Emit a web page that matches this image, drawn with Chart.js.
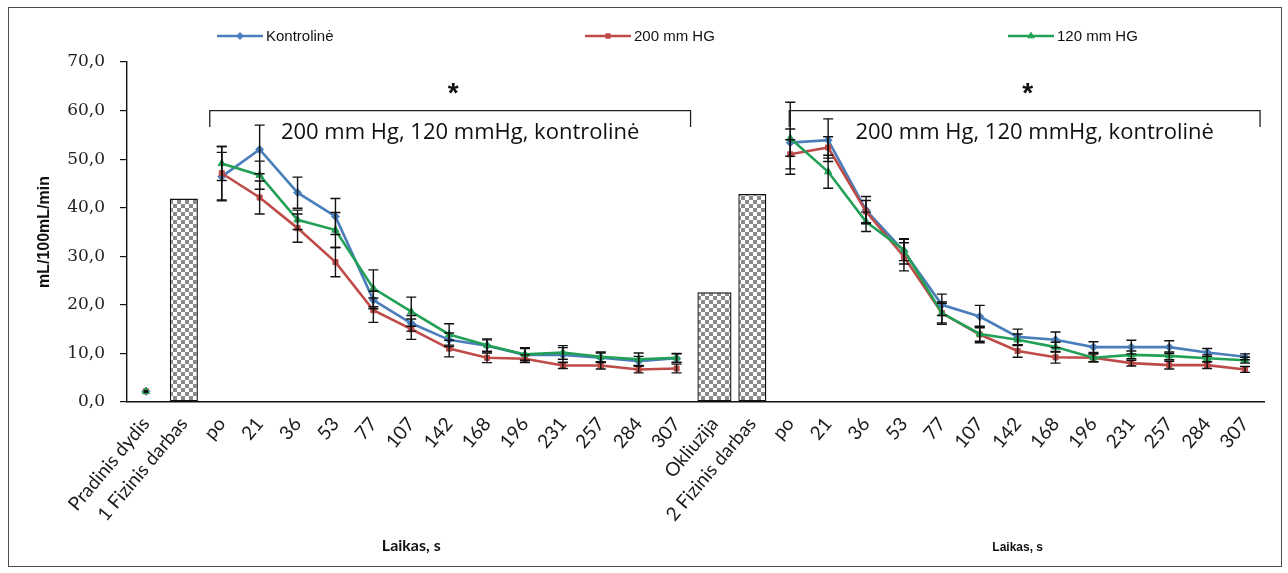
<!DOCTYPE html>
<html lang="lt">
<head>
<meta charset="utf-8">
<title>Kraujotaka</title>
<script src="https://cdn.jsdelivr.net/npm/chart.js@4.4.1/dist/chart.umd.min.js"></script>
<style>
    html, body { margin: 0; padding: 0; background: #fff; }
    .chart-box {
        position: absolute; left: 8px; top: 7px;
        width: 1272px; height: 558px;
        border: 1px solid #4d4d4d;
    }
</style>
</head>
<body>
<div class="chart-box"><canvas id="flowChart"></canvas></div>
<script>
var categories = [
    'Pradinis dydis', '1 Fizinis darbas',
    'po', '21', '36', '53', '77', '107', '142', '168', '196', '231', '257', '284', '307',
    'Okliuzija', '2 Fizinis darbas',
    'po', '21', '36', '53', '77', '107', '142', '168', '196', '231', '257', '284', '307'
];

var seriesNames = ['Kontrolinė', '200 mm HG', '120 mm HG'];

var barValues = [null, 41.9, null, null, null, null, null, null, null, null, null, null, null, null, null,
    22.6, 42.8, null, null, null, null, null, null, null, null, null, null, null, null, null];

var kontroline = [2.2, null,
    46.4, 52.0, 43.1, 38.2, 21.0, 16.2, 12.8, 11.6, 9.7, 9.7, 9.1, 8.4, 9.0,
    null, null,
    53.4, 53.9, 39.5, 31.0, 20.0, 17.6, 13.4, 12.8, 11.3, 11.3, 11.3, 10.2, 9.3];
var mm200 = [2.2, null,
    47.1, 42.1, 35.8, 28.8, 18.9, 15.0, 11.0, 9.1, 8.9, 7.5, 7.5, 6.7, 6.9,
    null, null,
    51.0, 52.4, 39.2, 29.9, 18.3, 13.9, 10.5, 9.2, 9.1, 8.0, 7.6, 7.6, 6.7];
var mm120 = [2.2, null,
    49.1, 46.7, 37.5, 35.4, 23.4, 18.6, 13.9, 11.7, 9.8, 10.2, 9.3, 8.8, 9.1,
    null, null,
    54.3, 47.4, 37.1, 31.3, 18.3, 14.0, 12.8, 11.3, 9.1, 9.7, 9.5, 9.0, 8.6];

var sdKontroline = [0.15, null,
    5.0, 5.0, 3.2, 3.7, 1.8, 1.6, 1.4, 1.2, 1.5, 1.5, 1.0, 1.0, 0.9,
    null, null,
    2.8, 4.4, 2.8, 2.6, 2.2, 2.3, 1.6, 1.6, 1.1, 1.4, 1.3, 0.8, 0.6];
var sd200 = [0.15, null,
    5.5, 3.4, 2.9, 3.0, 2.5, 2.1, 1.7, 1.0, 0.8, 0.6, 0.7, 0.7, 0.9,
    null, null,
    3.0, 2.2, 2.3, 2.9, 2.3, 1.7, 1.3, 1.2, 0.8, 0.6, 0.8, 0.7, 0.6];
var sd120 = [0.15, null,
    3.5, 2.9, 2.0, 3.6, 3.8, 3.0, 2.2, 1.3, 1.2, 1.4, 1.0, 1.3, 0.9,
    null, null,
    7.4, 3.4, 2.0, 2.2, 2.0, 1.5, 1.2, 1.0, 0.8, 0.8, 0.8, 0.7, 0.6];

var yTicks = [0, 10, 20, 30, 40, 50, 60, 70];
var yTickLabels = ['0,0', '10,0', '20,0', '30,0', '40,0', '50,0', '60,0', '70,0'];

var yTitle = 'mL/100mL/min';
var xTitle = 'Laikas, s';
var groupNote = '200 mm Hg, 120 mmHg, kontrolinė';

(function () {
    'use strict';

    var colors = ['#4A7EBB', '#BE4B48', '#22A055'];
    var markers = ['rectRot', 'rect', 'triangle'];
    var markerSize = [4, 3.6, 4.2];
    var sds = [sdKontroline, sd200, sd120];

    // checkered bar fill
    var tile = document.createElement('canvas');
    tile.width = 8;
    tile.height = 8;
    var tctx = tile.getContext('2d');
    tctx.fillStyle = '#ffffff';
    tctx.fillRect(0, 0, 8, 8);
    tctx.fillStyle = '#8a8a8a';
    tctx.fillRect(0, 0, 4, 4);
    tctx.fillRect(4, 4, 4, 4);
    var checker = tctx.createPattern(tile, 'repeat');

    var narrowBars = barValues.map(function (v, i) { return categories[i] === 'Okliuzija' ? null : v; });
    var wideBars = barValues.map(function (v, i) { return categories[i] === 'Okliuzija' ? v : null; });

    function lineSet(idx, data, order) {
        return {
            type: 'line',
            label: seriesNames[idx],
            data: data,
            borderColor: colors[idx],
            backgroundColor: colors[idx],
            borderWidth: 2.6,
            pointStyle: markers[idx],
            pointRadius: markerSize[idx],
            pointBorderWidth: 1,
            pointBackgroundColor: colors[idx],
            pointBorderColor: colors[idx],
            spanGaps: false,
            tension: 0,
            order: order,
            sdIndex: idx
        };
    }

    function barSet(data, pct) {
        return {
            type: 'bar',
            data: data,
            backgroundColor: checker,
            borderColor: '#111',
            borderWidth: 1.4,
            borderSkipped: false,
            barPercentage: pct,
            categoryPercentage: 1,
            grouped: false,
            order: 6
        };
    }

    function drawMarker(ctx, style, r, x, y) {
        if (window.Chart && Chart.helpers && Chart.helpers.drawPoint) {
            Chart.helpers.drawPoint(ctx, { pointStyle: style, radius: r, rotation: 0, borderWidth: 1 }, x, y);
            return;
        }
        ctx.beginPath();
        ctx.rect(x - r, y - r, r * 2, r * 2);
        ctx.fill();
    }

    var extras = {
        id: 'extras',
        afterDatasetsDraw: function (chart) {
            var ctx = chart.ctx;
            var ys = chart.scales.y;
            ctx.save();
            ctx.strokeStyle = '#111';
            ctx.lineWidth = 1.4;
            chart.data.datasets.forEach(function (ds, di) {
                if (ds.type !== 'line') return;
                var meta = chart.getDatasetMeta(di);
                var sd = sds[ds.sdIndex];
                ds.data.forEach(function (v, i) {
                    if (v == null || sd[i] == null) return;
                    var x = meta.data[i].x;
                    var top = ys.getPixelForValue(v + sd[i]);
                    var bot = ys.getPixelForValue(v - sd[i]);
                    var cap = sd[i] < 0.5 ? 2 : 5;
                    ctx.beginPath();
                    ctx.moveTo(x, top); ctx.lineTo(x, bot);
                    ctx.moveTo(x - cap, top); ctx.lineTo(x + cap, top);
                    ctx.moveTo(x - cap, bot); ctx.lineTo(x + cap, bot);
                    ctx.stroke();
                });
            });
            ctx.restore();
        },
        afterDraw: function (chart) {
            var ctx = chart.ctx;
            var xs = chart.scales.x;
            var ys = chart.scales.y;
            var area = chart.chartArea;

            // significance brackets
            var brackets = [
                [xs.getPixelForValue(2) - 12, xs.getPixelForValue(14) + 14],
                [xs.getPixelForValue(17) - 1, xs.getPixelForValue(29) + 15]
            ];
            var yLine = ys.getPixelForValue(60);
            var yFoot = ys.getPixelForValue(56.6);
            ctx.save();
            ctx.strokeStyle = '#222';
            ctx.lineWidth = 1.3;
            brackets.forEach(function (b) {
                ctx.beginPath();
                ctx.moveTo(b[0], yFoot);
                ctx.lineTo(b[0], yLine);
                ctx.lineTo(b[1], yLine);
                ctx.lineTo(b[1], yFoot);
                ctx.stroke();

                var mid = (b[0] + b[1]) / 2;
                ctx.fillStyle = '#111';
                ctx.textAlign = 'center';
                ctx.textBaseline = 'middle';
                ctx.font = 'bold 28px "Liberation Sans", sans-serif';
                ctx.fillText('*', mid + 3, ys.getPixelForValue(63.4));
                ctx.font = '22px "Open Sans", sans-serif';
                ctx.fillText(groupNote, mid + 10, ys.getPixelForValue(55.4));
            });

            // legend
            var legendX = [208, 576, 999];
            var ly = 28;
            ctx.font = '15px "Liberation Sans Narrow", "Liberation Sans", sans-serif';
            ctx.textAlign = 'left';
            ctx.textBaseline = 'middle';
            seriesNames.forEach(function (name, i) {
                var x0 = legendX[i];
                ctx.strokeStyle = colors[i];
                ctx.lineWidth = 2.6;
                ctx.beginPath();
                ctx.moveTo(x0, ly);
                ctx.lineTo(x0 + 46, ly);
                ctx.stroke();
                ctx.fillStyle = colors[i];
                ctx.strokeStyle = colors[i];
                ctx.lineWidth = 1;
                drawMarker(ctx, markers[i], markerSize[i] - 0.5, x0 + 23, ly);
                ctx.fillStyle = '#111';
                ctx.fillText(name, x0 + 49, ly + 1);
            });

            // x axis titles, one per block
            ctx.textAlign = 'center';
            ctx.fillStyle = '#111';
            ctx.font = 'bold 16px Lato, sans-serif';
            ctx.fillText(xTitle, xs.getPixelForValue(7), area.bottom + 144);
            ctx.font = 'bold 12px "Liberation Sans", sans-serif';
            ctx.fillText(xTitle, xs.getPixelForValue(23), area.bottom + 146);
            ctx.restore();
        }
    };

    new Chart(document.getElementById('flowChart'), {
        type: 'bar',
        data: {
            labels: categories,
            datasets: [
                lineSet(2, mm120, 1),
                lineSet(1, mm200, 2),
                lineSet(0, kontroline, 3),
                barSet(narrowBars, 0.74),
                barSet(wideBars, 0.9)
            ]
        },
        options: {
            responsive: true,
            maintainAspectRatio: false,
            animation: false,
            events: [],
            layout: { padding: { top: 54, right: 17, bottom: 0, left: 0 } },
            plugins: {
                legend: { display: false },
                tooltip: { enabled: false }
            },
            scales: {
                x: {
                    offset: true,
                    grid: { display: true, drawOnChartArea: false, drawTicks: false },
                    border: { display: true, color: '#111', width: 1.4 },
                    ticks: {
                        autoSkip: false,
                        minRotation: 50,
                        maxRotation: 50,
                        padding: 11,
                        color: '#1a1a1a',
                        font: { family: 'Lato, sans-serif', size: 19 }
                    },
                    afterFit: function (scale) { scale.height = 164; }
                },
                y: {
                    min: 0,
                    max: 70,
                    afterBuildTicks: function (scale) {
                        scale.ticks = yTicks.map(function (v) { return { value: v }; });
                    },
                    ticks: {
                        padding: 15,
                        color: '#222',
                        font: { family: '"DejaVu Serif", serif', size: 17 },
                        callback: function (value) {
                            var i = yTicks.indexOf(value);
                            return i >= 0 ? yTickLabels[i] : '';
                        }
                    },
                    grid: { display: true, drawOnChartArea: false, drawTicks: true, tickLength: 7, color: '#111', lineWidth: 1.2 },
                    border: { display: true, color: '#111', width: 1.4 },
                    title: {
                        display: true,
                        text: yTitle,
                        color: '#111',
                        font: { family: '"Liberation Sans", Arial, sans-serif', size: 16, weight: 'bold' },
                        padding: { top: 26, bottom: 0 }
                    },
                    afterFit: function (scale) { scale.width = 118; }
                }
            }
        },
        plugins: [extras]
    });
})();
</script>
</body>
</html>
